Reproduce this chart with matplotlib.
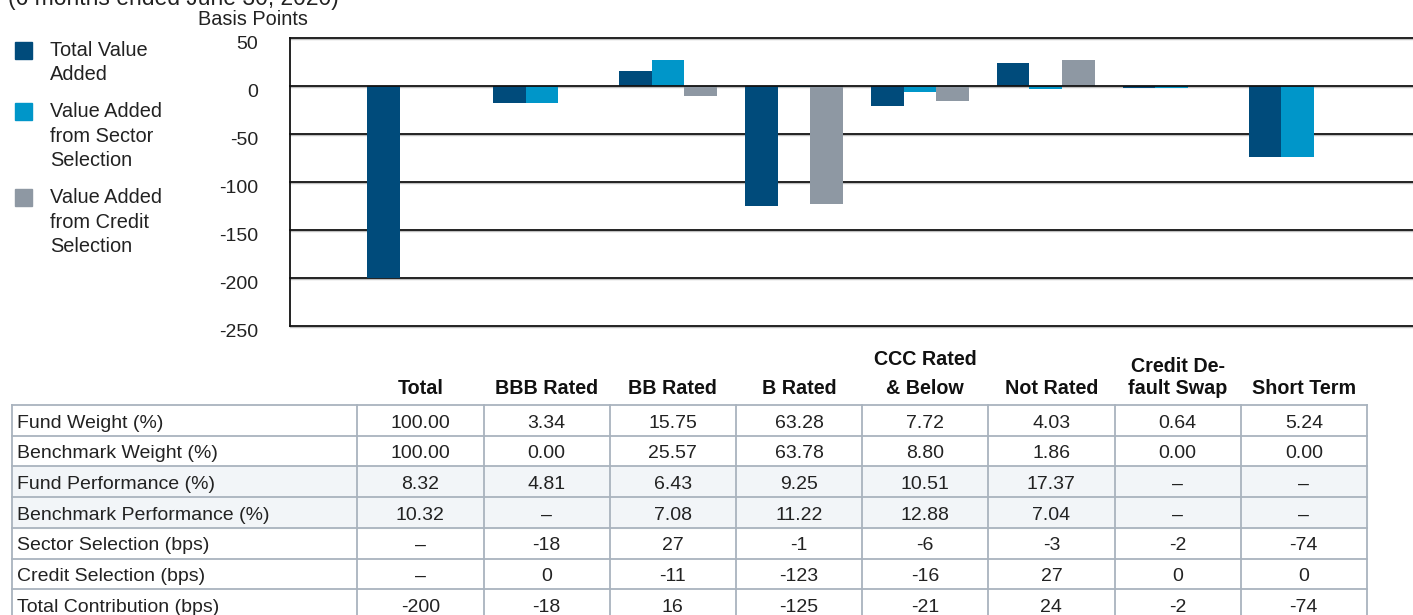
import matplotlib.pyplot as plt
import matplotlib.transforms as mtransforms
from matplotlib.patches import Rectangle
import numpy as np

plt.rcParams['font.family'] = ['Liberation Sans', 'DejaVu Sans']
plt.rcParams['axes.unicode_minus'] = False

# Categories and attribution values (bps)
categories = ['Total', 'BBB Rated', 'BB Rated', 'B Rated', 'CCC Rated\n& Below',
              'Not Rated', 'Credit De-\nfault Swap', 'Short Term']
total_contribution = [-200, -18, 16, -125, -21, 24, -2, -74]
sector_selection = [None, -18, 27, -1, -6, -3, -2, -74]
credit_selection = [None, 0, -11, -123, -16, 27, 0, 0]

# Table rows
fund_weight = ['100.00', '3.34', '15.75', '63.28', '7.72', '4.03', '0.64', '5.24']
bench_weight = ['100.00', '0.00', '25.57', '63.78', '8.80', '1.86', '0.00', '0.00']
fund_perf = ['8.32', '4.81', '6.43', '9.25', '10.51', '17.37', '–', '–']
bench_perf = ['10.32', '–', '7.08', '11.22', '12.88', '7.04', '–', '–']

series_names = ['Total Value\nAdded', 'Value Added\nfrom Sector\nSelection',
                'Value Added\nfrom Credit\nSelection']
series_colors = ['#004b7b', '#0096c9', '#8e98a3']
y_ticks = [50, 0, -50, -100, -150, -200, -250]
subtitle = '(6 months ended June 30, 2020)'


def fmt(v):
    return '–' if v is None else f'{v:g}'


table_rows = [
    ('Fund Weight (%)', fund_weight),
    ('Benchmark Weight (%)', bench_weight),
    ('Fund Performance (%)', fund_perf),
    ('Benchmark Performance (%)', bench_perf),
    ('Sector Selection (bps)', [fmt(v) for v in sector_selection]),
    ('Credit Selection (bps)', [fmt(v) for v in credit_selection]),
    ('Total Contribution (bps)', [fmt(v) for v in total_contribution]),
]

W, H = 1413, 615
fig = plt.figure(figsize=(W / 100, H / 100), dpi=100)

# overlay axes in pixel coordinates for legend / table
ov = fig.add_axes([0, 0, 1, 1])
ov.set_xlim(0, W)
ov.set_ylim(H, 0)
ov.axis('off')

txt = '#222222'

# ---- bar chart ----
left, right, top, bottom = 290, 1420, 38, 325.7
ax = fig.add_axes([left / W, 1 - bottom / H, (right - left) / W, (bottom - top) / H])
x = np.arange(len(categories))
bw = 0.26
to_arr = lambda vals: np.array([np.nan if v is None else v for v in vals], dtype=float)
for i, vals in enumerate([total_contribution, sector_selection, credit_selection]):
    ax.bar(x + (i - 1) * bw, to_arr(vals), bw, color=series_colors[i], zorder=2)

ax.set_xlim(-1.0, 7.97)
ax.set_ylim(-250, 50)
ax.set_yticks(y_ticks)
ax.set_xticks([])
shadow = ax.get_yaxis_transform() + mtransforms.ScaledTranslation(0, -1.3 / 100, fig.dpi_scale_trans)
for t in y_ticks:
    ax.plot([0, 1], [t, t], color='#c0c0c0', lw=1.0, transform=shadow, zorder=1, clip_on=False)
    ax.axhline(t, color='#111111', lw=1.3, zorder=3 if t == 0 else 1.5, clip_on=False)
for s in ['top', 'right', 'bottom']:
    ax.spines[s].set_visible(False)
ax.spines['left'].set_color('#111111')
ax.spines['left'].set_linewidth(1.3)
ax.tick_params(axis='y', length=0, pad=23, labelsize=14, labelcolor=txt)
for lab in ax.get_yticklabels():
    lab.set_transform(lab.get_transform() + mtransforms.ScaledTranslation(0, -4.5 / 100, fig.dpi_scale_trans))

ov.text(252.5, 25, 'Basis Points', fontsize=14.3, ha='center', va='baseline', color=txt)
ov.text(8, 5.5, subtitle, fontsize=16.5, ha='left', va='baseline', color=txt)

# ---- legend ----
leg_tops = [42, 103, 189]
for i, name in enumerate(series_names):
    ov.add_patch(Rectangle((15, leg_tops[i]), 17, 17, color=series_colors[i]))
    for j, line in enumerate(name.split('\n')):
        ov.text(50, leg_tops[i] + 8.5 + j * 24.5, line, fontsize=14.4, va='center',
                ha='left', color=txt)

# ---- table ----
col_edges = [12, 357.3] + [357.3 + 126.2 * (k + 1) for k in range(8)]
row_top, row_h = 405, 30.7
centers = [(col_edges[k + 1] + col_edges[k + 2]) / 2 for k in range(8)]
header_gap = {4: 29.4, 6: 21.7}
for k, cat in enumerate(categories):
    lines = cat.split('\n')
    for j, line in enumerate(reversed(lines)):
        ov.text(centers[k], 394 - j * header_gap.get(k, 29.4), line, fontsize=14.2,
                fontweight='bold', ha='center', va='baseline', color='#111111')

border = '#a9b3be'
n_rows = len(table_rows)
for r, (label, vals) in enumerate(table_rows):
    y0 = row_top + r * row_h
    if r in (2, 3):
        ov.add_patch(Rectangle((col_edges[0], y0), col_edges[-1] - col_edges[0], row_h,
                               color='#f2f5f8', zorder=0))
    ov.text(17, y0 + 22.5, label, fontsize=14, ha='left', va='baseline', color=txt)
    for k, v in enumerate(vals):
        ov.text(centers[k], y0 + 22.5, v, fontsize=14, ha='center', va='baseline', color=txt)
for r in range(n_rows + 1):
    ov.plot([col_edges[0], col_edges[-1]], [row_top + r * row_h] * 2, color=border, lw=1.3)
for xe in col_edges:
    ov.plot([xe, xe], [row_top, row_top + n_rows * row_h], color=border, lw=1.3)

fig.savefig('out.png', dpi=100)
